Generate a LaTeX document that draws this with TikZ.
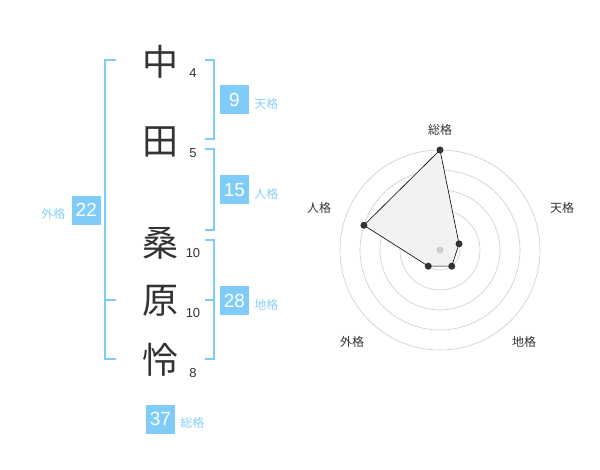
\documentclass[tikz,border=0pt]{standalone}
\usepackage{fontspec}
\setmainfont{Liberation Sans}
\newfontfamily\cjk{Noto Sans CJK JP}
\usetikzlibrary{positioning}
\definecolor{kakublue}{HTML}{80CCF9}
\definecolor{kakutext}{HTML}{8ACFF5}
\definecolor{inkgray}{HTML}{333333}
\definecolor{ringgray}{HTML}{CCCCCC}
\definecolor{radarfill}{HTML}{F2F2F2}
\tikzset{
	kanji/.style={text=inkgray,font=\cjk\fontsize{36}{36}\selectfont,inner sep=0pt},
	strokes/.style={text=inkgray,font=\fontsize{13}{13}\selectfont,inner sep=0pt},
	bracket/.style={draw=kakublue,line width=1.8pt},
	scorebox/.style={fill=kakublue,text=white,font=\fontsize{19}{19}\selectfont,minimum width=29pt,minimum height=29pt,inner sep=0pt},
	kakulabel/.style={text=kakutext,font=\cjk\fontsize{12}{12}\selectfont,inner sep=0pt},
	axislabel/.style={text=inkgray,font=\cjk\fontsize{12}{12}\selectfont,inner sep=0pt},
}
\begin{document}
\begin{tikzpicture}[x=1pt,y=-1pt]
	\useasboundingbox (0,0) rectangle (600,470);
	% name and strokes
	\foreach \n/\k/\y/\s/\sy in {a/中/62/4/73,b/田/142/5/153,c/桑/243/10/253,d/原/301/10/313,e/怜/360/8/373}
	{\node[kanji] (\n) at (160,\y) {\k};
	\node[strokes] (s\n) at (193,\sy) {\s};}
	\path
	(116,60) coordinate(G1) (105,60) coordinate(G2) (105,359) coordinate(G3) (116,359) coordinate(G4)
	(105,300) coordinate(G5) (116,300) coordinate(G6)
	(205,60) coordinate(T1) (214,60) coordinate(T2) (214,139) coordinate(T3) (205,139) coordinate(T4)
	(205,149) coordinate(J1) (214,149) coordinate(J2) (214,230) coordinate(J3) (205,230) coordinate(J4)
	(205,240) coordinate(H1) (214,240) coordinate(H2) (214,359) coordinate(H3) (205,359) coordinate(H4)
	(214,300) coordinate(H5) (205,300) coordinate(H6)
	;
	\draw[bracket] (G1)--(G2)--(G3)--(G4) (G5)--(G6);
	\draw[bracket] (T1)--(T2)--(T3)--(T4);
	\draw[bracket] (J1)--(J2)--(J3)--(J4);
	\draw[bracket] (H1)--(H2)--(H3)--(H4) (H5)--(H6);
	% scores
	\node[scorebox] (ten) at (234.5,100) {9};
	\node[scorebox] (jin) at (234.5,190) {15};
	\node[scorebox] (chi) at (234.5,300.5) {28};
	\node[scorebox] (gai) at (86.3,210.3) {22};
	\node[scorebox] (sou) at (160.5,419) {37};
	\node[kakulabel,right=5pt of ten,yshift=-4pt] (tenl) {天格};
	\node[kakulabel,right=5pt of jin,yshift=-4pt] (jinl) {人格};
	\node[kakulabel,right=5pt of chi,yshift=-4pt] (chil) {地格};
	\node[kakulabel,left=6pt of gai,yshift=-4pt] (gail) {外格};
	\node[kakulabel,right=5pt of sou,yshift=-4pt] (soul) {総格};
	% radar
	\coordinate (C) at (440,250);
	\foreach \r in {20,40,...,100}\draw[ringgray,line width=0.6pt] (C) circle[radius=\r pt];
	\path
	([shift={(90:100pt)}]C) coordinate(Pso)
	([shift={(18:20pt)}]C) coordinate(Pten)
	([shift={(-54:20pt)}]C) coordinate(Pchi)
	([shift={(-126:20pt)}]C) coordinate(Pgai)
	([shift={(162:80pt)}]C) coordinate(Pjin)
	;
	\draw[fill=radarfill,line width=0.6pt] (Pso)--(Pten)--(Pchi)--(Pgai)--(Pjin)--cycle;
	\foreach \p in {Pso,Pten,Pchi,Pgai,Pjin}\fill[inkgray](\p)circle(3.5pt);
	\fill[ringgray] (C) circle(3.5pt);
	\node[axislabel] (Lso) at (440,130) {総格};
	\node[axislabel] (Lten) at (562,208) {天格};
	\node[axislabel] (Lchi) at (524,342) {地格};
	\node[axislabel] (Lgai) at (352,342) {外格};
	\node[axislabel] (Ljin) at (319,208) {人格};
\end{tikzpicture}
\end{document}
